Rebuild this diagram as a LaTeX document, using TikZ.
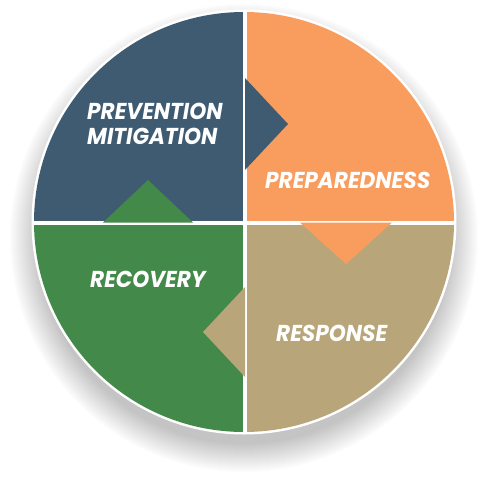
\documentclass[tikz,border=0pt]{standalone}
\usepackage{fontspec}
\setmainfont{Poppins}
\definecolor{cblue}{HTML}{3E5B72}
\definecolor{corange}{HTML}{F99D5E}
\definecolor{ctan}{HTML}{B8A67A}
\definecolor{cgreen}{HTML}{43894A}
\definecolor{cshadow}{HTML}{55535E}
\newcommand{\sqz}[1]{\scalebox{0.94}[1]{#1}}
\tikzset{
  lbl/.style={text=white, font=\fontsize{23}{23}\selectfont\bfseries\itshape, inner sep=0pt, anchor=base west},
  divider/.style={draw=white, line width=4pt},
}
\begin{document}
\begin{tikzpicture}[x=1pt,y=-1pt]
\fill[white] (0,0) rectangle (488,488);
\useasboundingbox (0,0) rectangle (488,488);
% soft shadow
\foreach \r in {234,233,...,206}{
  \fill[cshadow, opacity=0.011] (244,238) circle[radius=\r];
}
\fill[white] (244,222) circle[radius=212.5];
\begin{scope}
  \clip (244,222) circle[radius=210];
  \fill[cblue] (0,0) rectangle (245,222);
  \fill[corange] (245,0) rectangle (488,222);
  \fill[ctan] (245,222) rectangle (488,488);
  \fill[cgreen] (0,222) rectangle (245,488);
  \draw[divider] (245,0) -- (245,488);
  \draw[divider] (0,222.5) -- (488,222.5);
  % arrows
  \fill[cblue] (245,78) -- (288,124) -- (245,170) -- cycle;
  \fill[corange] (300,222.5) -- (346,264) -- (392,222.5) -- cycle;
  \fill[ctan] (245,287) -- (203,332) -- (245,377) -- cycle;
  \fill[cgreen] (103,222.5) -- (148,180) -- (193,222.5) -- cycle;
\end{scope}
\node[lbl] (prev) at (87,119) {\sqz{PREVENTION}};
\node[lbl] (miti) at (87,144) {\sqz{MITIGATION}};
\node[lbl] (prep) at (265,188) {\sqz{PREPAREDNESS}};
\node[lbl] (reco) at (90,287) {\sqz{RECOVERY}};
\node[lbl] (resp) at (276,341) {\sqz{RESPONSE}};
\end{tikzpicture}
\end{document}
